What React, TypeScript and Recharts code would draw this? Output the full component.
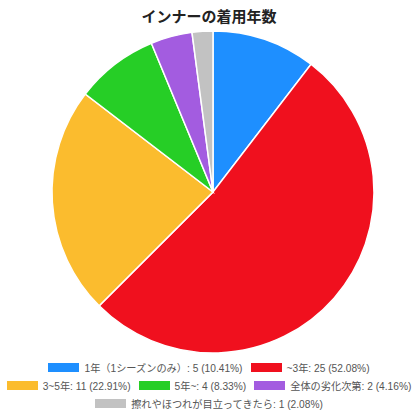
import { PieChart, Pie, Cell } from "recharts";

const title = "インナーの着用年数";
const categories = [
  "1年（1シーズンのみ）",
  "~3年",
  "3~5年",
  "5年~",
  "全体の劣化次第",
  "擦れやほつれが目立ってきたら",
];
const counts = [5, 25, 11, 4, 2, 1];
const colors = ["#1E8FFF", "#F0101E", "#FBBC2E", "#26CE26", "#A35CE0", "#C2C2C2"];
const legendRows = [[0, 1], [2, 3, 4], [5]];

const total = counts.reduce((a, b) => a + b, 0);
const data = categories.map((name, i) => ({ name, value: counts[i] }));

const font = "Helvetica, Arial, 'Liberation Sans', 'Noto Sans CJK JP', sans-serif";

function pct(v: number) {
  return (Math.floor((v / total) * 10000) / 100).toFixed(2);
}

function LegendBlock() {
  return (
    <div
      style={{
        position: "absolute",
        left: 0,
        top: 358,
        width: 418,
        fontFamily: font,
        fontSize: 10.2,
        color: "#555",
        whiteSpace: "nowrap",
      }}
    >
      {legendRows.map((row, r) => (
        <div
          key={r}
          style={{ display: "flex", justifyContent: "center", height: 18, alignItems: "center" }}
        >
          {row.map((i) => (
            <div key={i} style={{ display: "flex", alignItems: "center", margin: "0 4px" }}>
              <span
                style={{
                  display: "inline-block",
                  width: 31,
                  height: 9,
                  background: colors[i],
                  marginRight: 5,
                }}
              />
              <span>
                {categories[i]}: {counts[i]} ({pct(counts[i])}%)
              </span>
            </div>
          ))}
        </div>
      ))}
    </div>
  );
}

export default function App() {
  return (
    <div
      style={{
        position: "absolute",
        left: 0,
        top: 0,
        width: 418,
        height: 418,
        background: "#fff",
      }}
    >
      <div
        style={{
          position: "absolute",
          top: 5,
          width: 418,
          textAlign: "center",
          fontFamily: font,
          fontWeight: "bold",
          fontSize: 15,
          color: "#222",
        }}
      >
        {title}
      </div>
      <div style={{ position: "absolute", left: 0, top: 0 }}>
        <PieChart width={418} height={358} margin={{ top: 0, right: 0, bottom: 0, left: 0 }}>
          <Pie
            data={data}
            dataKey="value"
            nameKey="name"
            cx={213}
            cy={192}
            outerRadius={161}
            startAngle={90}
            endAngle={-270}
            stroke="#fff"
            strokeWidth={1.5}
            isAnimationActive={false}
          >
            {data.map((d, i) => (
              <Cell key={d.name} fill={colors[i]} />
            ))}
          </Pie>
        </PieChart>
      </div>
      <LegendBlock />
    </div>
  );
}
